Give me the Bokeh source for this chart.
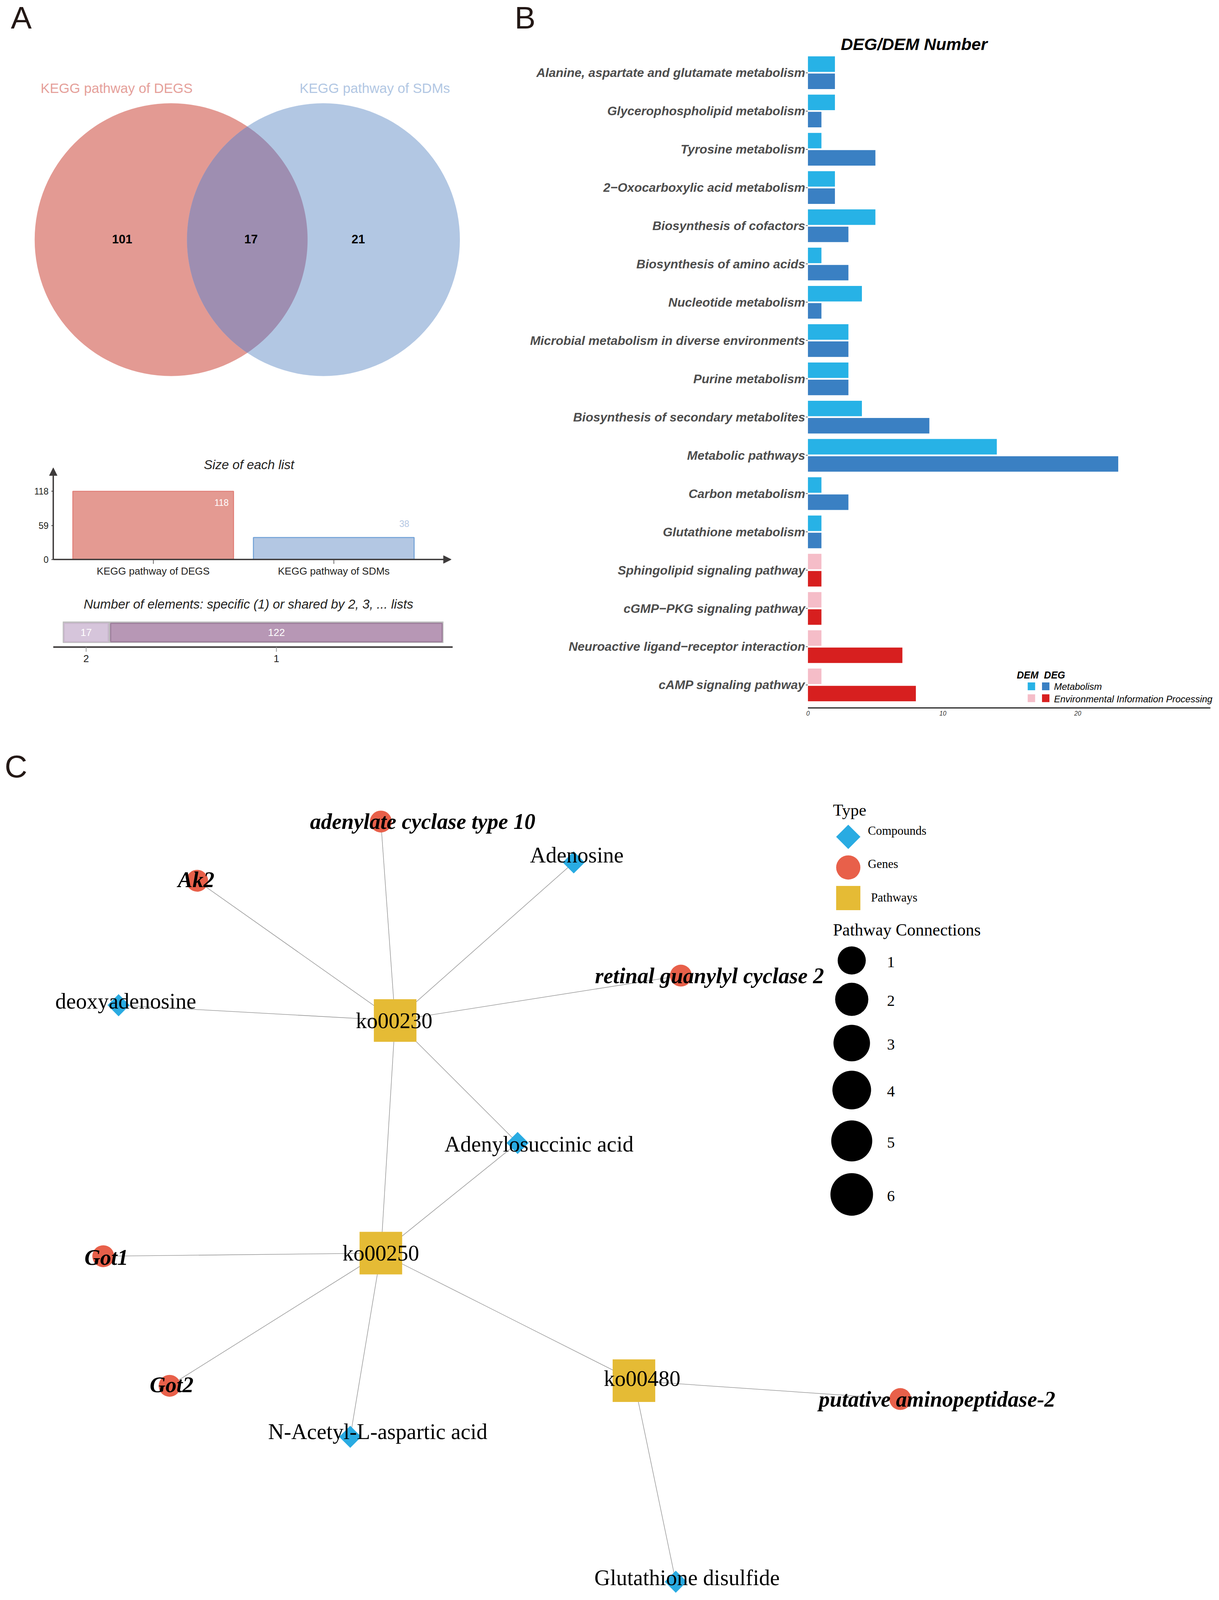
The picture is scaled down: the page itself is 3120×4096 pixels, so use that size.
import numpy as np
from bokeh.plotting import figure
from bokeh.layouts import column, row
from bokeh.models import Range1d, FixedTicker, Arrow, NormalHead
from bokeh.core.properties import value
from bokeh.embed import file_html
from bokeh.resources import INLINE

SANS = "Liberation Sans"
SERIF = "Liberation Serif"
K = 0.882          # reference px -> page px
OFF = 0            # page offset of the layout
S2L = 2.61204      # shown px -> page px (panel C coordinates)

# ---------------- Panel A data ----------------
venn_sets = ["KEGG pathway of DEGS", "KEGG pathway of SDMs"]
venn_unique = [101, 21]
venn_shared = [17]
list_sizes = [118, 38]
size_ticks = [0, 59, 118]
share_labels = ["2", "1"]
share_counts = [17, 122]

# ---------------- Panel B data ----------------
b_pathways = [
    "Alanine, aspartate and glutamate metabolism",
    "Glycerophospholipid metabolism",
    "Tyrosine metabolism",
    "2\u2212Oxocarboxylic acid metabolism",
    "Biosynthesis of cofactors",
    "Biosynthesis of amino acids",
    "Nucleotide metabolism",
    "Microbial metabolism in diverse environments",
    "Purine metabolism",
    "Biosynthesis of secondary metabolites",
    "Metabolic pathways",
    "Carbon metabolism",
    "Glutathione metabolism",
    "Sphingolipid signaling pathway",
    "cGMP\u2212PKG signaling pathway",
    "Neuroactive ligand\u2212receptor interaction",
    "cAMP signaling pathway",
]
b_dem = [2, 2, 1, 2, 5, 1, 4, 3, 3, 4, 14, 1, 1, 1, 1, 1, 1]
b_deg = [2, 1, 5, 2, 3, 3, 1, 3, 3, 9, 23, 3, 1, 1, 1, 7, 8]
b_class = ["Metabolism"] * 13 + ["Environmental Information Processing"] * 4
b_classes = ["Metabolism", "Environmental Information Processing"]
b_ticks = [0, 10, 20]

# ---------------- Panel C data ----------------
c_nodes = ["adenylate cyclase type 10", "Ak2", "Adenosine", "deoxyadenosine", "ko00230",
           "retinal guanylyl cyclase 2", "Adenylosuccinic acid", "ko00250", "Got1", "Got2",
           "N-Acetyl-L-aspartic acid", "ko00480", "putative aminopeptidase-2",
           "Glutathione disulfide"]
c_types = ["Genes", "Genes", "Compounds", "Compounds", "Pathways", "Genes", "Compounds",
           "Pathways", "Genes", "Genes", "Compounds", "Pathways", "Genes", "Compounds"]
c_x = [373, 193, 562, 116, 387, 667, 507, 373, 101, 166, 343, 621, 882, 662]
c_y = [805, 863, 845, 985, 1000, 956, 1120, 1228, 1231, 1358, 1408, 1353, 1371, 1550]
c_lx = [414, 192, 565, 123, 386, 695, 528, 373, 104, 168, 370, 629, 918, 673]
c_ly = [805, 862, 838, 981, 1000, 956, 1121, 1228, 1232, 1357, 1403, 1351, 1371, 1546]
c_edge_from = ["ko00230"] * 7 + ["ko00250"] * 5 + ["ko00480"] * 2
c_edge_to = ["adenylate cyclase type 10", "Ak2", "Adenosine", "deoxyadenosine",
             "retinal guanylyl cyclase 2", "Adenylosuccinic acid", "ko00250",
             "Adenylosuccinic acid", "Got1", "Got2", "N-Acetyl-L-aspartic acid", "ko00480",
             "putative aminopeptidase-2", "Glutathione disulfide"]
c_legend_types = ["Compounds", "Genes", "Pathways"]
c_conn = [1, 2, 3, 4, 5, 6]

# ---------------- layout constants (page px) ----------------
WALL = 3116
WL = 1260
WB = WALL - WL
HA1, HA2, HA3 = 1110, 390, 380
HTOP = HA1 + HA2 + HA3
HC = 4090 - HTOP


def loc2ref(v):
    return (v + OFF) / K


def base_fig(w, h, xr, yr, axes=False):
    kw = dict(width=w, height=h, x_range=xr, y_range=yr, output_backend="svg",
              toolbar_location=None, min_border=0, title_location=None)
    if not axes:
        kw.update(x_axis_type=None, y_axis_type=None)
    p = figure(**kw)
    p.outline_line_color = None
    p.background_fill_color = "white"
    p.border_fill_color = "white"
    if axes:
        p.xgrid.visible = False
        p.ygrid.visible = False
    return p


def txt(p, x, y, t, size, font=SANS, style="normal", color="black", align="center",
        baseline="middle"):
    p.text(x=x, y=y, text=t, text_font=value(font), text_font_size=size,
           text_font_style=style, text_color=color, text_align=align,
           text_baseline=baseline)


# ================= Panel A1 : Venn =================
pA1 = base_fig(WL, HA1, Range1d(loc2ref(0), loc2ref(WL)), Range1d(loc2ref(HA1), loc2ref(0)))
cx = [496.0, 938.0]
cy = 695.0
rad = 396.0
pA1.ellipse(x=cx, y=[cy, cy], width=2 * rad, height=2 * rad,
            fill_color=["#E39A93", "#B2C7E3"], line_color=None)
half = (cx[1] - cx[0]) / 2
th = np.arccos(half / rad)
t1 = np.linspace(-th, th, 120)
t2 = np.linspace(np.pi - th, np.pi + th, 120)
lens_x = np.concatenate([cx[0] + rad * np.cos(t1), cx[1] + rad * np.cos(t2)])
lens_y = np.concatenate([cy + rad * np.sin(t1), cy + rad * np.sin(t2)])
pA1.patch(lens_x, lens_y, fill_color="#9E8EB1", line_color=None)
txt(pA1, [338, 1087], [255, 255], venn_sets, "35px", color=["#E5A09A", "#B2C7E3"])
txt(pA1, [354, 728, 1039], [693, 693, 693],
    [str(venn_unique[0]), str(venn_shared[0]), str(venn_unique[1])], "31px", style="bold")
txt(pA1, [31], [51], ["A"], "80px", color="#231815", align="left")

# ================= Panel A2 : Size of each list =================
def a2x(F):
    return (F - 444.0) / 524.0


def a2y(F):
    return (1623.3 - F) / 1.6763


pA2 = base_fig(WL, HA2, Range1d(a2x(loc2ref(0)), a2x(loc2ref(WL))),
               Range1d(a2y(loc2ref(HA1 + HA2)), a2y(loc2ref(HA1))), axes=True)
xi = list(range(len(list_sizes)))
pA2.vbar(x=xi, top=list_sizes, bottom=0, width=0.89,
         fill_color=["#E49A92", "#B3C7E3"], line_color=["#E07F78", "#6FA0D6"], line_width=2.5)
ax_x = a2x(154)
pA2.xaxis.fixed_location = 0
pA2.yaxis.fixed_location = ax_x
for ax in (pA2.xaxis[0], pA2.yaxis[0]):
    ax.axis_line_color = None
    ax.minor_tick_line_color = None
    ax.major_tick_in = 0
    ax.major_label_text_font = SANS
    ax.major_label_text_color = "#231F20"
    ax.major_tick_line_color = "#3D3A3A"
pA2.xaxis.ticker = FixedTicker(ticks=xi)
pA2.xaxis.major_label_overrides = {i: s for i, s in enumerate(venn_sets)}
pA2.xaxis.major_label_text_font_size = "26px"
pA2.xaxis.major_tick_out = 11
pA2.xaxis.major_tick_line_width = 1.5
pA2.xaxis.major_label_standoff = 4
pA2.yaxis.ticker = FixedTicker(ticks=size_ticks)
pA2.yaxis.major_label_text_font_size = "23px"
pA2.yaxis.major_tick_out = 5
pA2.yaxis.major_tick_line_width = 2
pA2.yaxis.major_label_standoff = 7
AX = "#3D3A3A"
pA2.add_layout(Arrow(end=NormalHead(size=20, fill_color=AX, line_color=AX),
                     x_start=ax_x, y_start=0, x_end=ax_x, y_end=a2y(1357),
                     line_color=AX, line_width=3.5))
pA2.add_layout(Arrow(end=NormalHead(size=20, fill_color=AX, line_color=AX),
                     x_start=ax_x, y_start=0, x_end=a2x(1309), y_end=0,
                     line_color=AX, line_width=3.5))
txt(pA2, [a2x(722)], [a2y(1348)], ["Size of each list"], "33px", style="italic", color="#231F20")
txt(pA2, [i + 0.418 for i in xi], [a2y(1458), a2y(1519)], [str(v) for v in list_sizes], "23px",
    color=["white", "#B3C7E3"], align="right")

# ================= Panel A3 : shared elements =================
def a3x(F):
    return (F - 182.0) / 7.942


def a3y(F):
    return F * K - OFF


pA3 = base_fig(WL, HA3, Range1d(a3x(loc2ref(0)), a3x(loc2ref(WL))),
               Range1d(HA1 + HA2 + HA3, HA1 + HA2), axes=True)
cum = np.concatenate([[0], np.cumsum(share_counts)[:-1]])
total = int(np.sum(share_counts))
pA3.hbar(y=[a3y(1834.5)], left=[0], right=[total], height=54,
         fill_color="#BEBEBE", line_color="#BEBEBE", line_width=1)
pA3.hbar(y=[a3y(1835.3)] * 2, left=cum + 0.45, right=cum + np.array(share_counts) - 0.45,
         height=47, fill_color=["#D6C5DB", "#B797B5"], line_color=["#C9B7CD", "#9D7D9B"],
         line_width=3)
centers = [float(c + v / 2) for c, v in zip(cum, share_counts)]
txt(pA3, centers, [a3y(1835)] * 2, [str(v) for v in share_counts], "26px", color="white")
axis_line_y = a3y(1877.6)
pA3.line(x=[a3x(154), a3x(1313)], y=[axis_line_y] * 2, line_color=AX, line_width=4)
pA3.yaxis.visible = False
pA3.xaxis.fixed_location = axis_line_y
pA3.xaxis.axis_line_color = None
pA3.xaxis.ticker = FixedTicker(ticks=centers)
pA3.xaxis.major_label_overrides = {c: s for c, s in zip(centers, share_labels)}
pA3.xaxis.minor_tick_line_color = None
pA3.xaxis.major_tick_in = 0
pA3.xaxis.major_tick_out = 12
pA3.xaxis.major_tick_line_color = "#9A9A9A"
pA3.xaxis.major_tick_line_width = 2
pA3.xaxis.major_label_standoff = 8
pA3.xaxis.major_label_text_font = SANS
pA3.xaxis.major_label_text_font_size = "26px"
pA3.xaxis.major_label_text_color = "#231F20"
txt(pA3, [a3x(720.5)], [a3y(1752.6)],
    ["Number of elements: specific (1) or shared by 2, 3, ... lists"], "33px",
    style="italic", color="#231F20")

# ================= Panel B : DEG/DEM bars =================
def bfx(F):
    return (F - 2344.0) / 39.15


def bfy(F):
    return (F - 210.5) / 111.06


pB = base_fig(WB, HTOP, Range1d(bfx(loc2ref(WL)), bfx(loc2ref(WALL))),
              Range1d(bfy(loc2ref(HTOP)), bfy(loc2ref(0))), axes=True)
idx = np.arange(len(b_pathways))
dem_col = {"Metabolism": "#27B2E6", "Environmental Information Processing": "#F5BDC8"}
deg_col = {"Metabolism": "#3A80C3", "Environmental Information Processing": "#D71F1F"}
pB.hbar(y=idx - 0.225, left=0, right=b_dem, height=0.405,
        fill_color=[dem_col[c] for c in b_class], line_color=None)
pB.hbar(y=idx + 0.225, left=0, right=b_deg, height=0.405,
        fill_color=[deg_col[c] for c in b_class], line_color=None)
b_axis_y = bfy(2054)
pB.line(x=[0, bfx(3512)], y=[b_axis_y] * 2, line_color="black", line_width=2.5)
pB.yaxis.fixed_location = 0
pB.yaxis.ticker = FixedTicker(ticks=[int(i) for i in idx])
pB.yaxis.major_label_overrides = {int(i): s for i, s in zip(idx, b_pathways)}
pB.yaxis.axis_line_color = None
pB.yaxis.minor_tick_line_color = None
pB.yaxis.major_tick_in = 0
pB.yaxis.major_tick_out = 5
pB.yaxis.major_tick_line_color = "#333333"
pB.yaxis.major_tick_line_width = 1.5
pB.yaxis.major_label_standoff = 2
pB.yaxis.major_label_text_font = SANS
pB.yaxis.major_label_text_font_size = "32px"
pB.yaxis.major_label_text_font_style = "bold italic"
pB.yaxis.major_label_text_color = "#4D4D4D"
pB.xaxis.fixed_location = b_axis_y
pB.xaxis.ticker = FixedTicker(ticks=b_ticks)
pB.xaxis.axis_line_color = None
pB.xaxis.minor_tick_line_color = None
pB.xaxis.major_tick_in = 0
pB.xaxis.major_tick_out = 0
pB.xaxis.major_label_standoff = 8
pB.xaxis.major_label_text_font = SANS
pB.xaxis.major_label_text_font_size = "16px"
pB.xaxis.major_label_text_font_style = "italic"
pB.xaxis.major_label_text_color = "#333333"
txt(pB, [bfx(1493)], [bfy(51)], ["B"], "80px", color="#231815", align="left")
txt(pB, [bfx(2652)], [bfy(127)], ["DEG/DEM Number"], "43px", style="bold italic")
# legend
txt(pB, [bfx(2950), bfx(3029)], [bfy(1959)] * 2, ["DEM", "DEG"], "25px", style="bold italic",
    align="left")
sw_y = [bfy(1991.5), bfy(2026)]
pB.rect(x=[bfx(2992.5)] * 2, y=sw_y, width=19, height=20, width_units="screen",
        height_units="screen", fill_color=[dem_col[c] for c in b_classes], line_color=None)
pB.rect(x=[bfx(3034)] * 2, y=sw_y, width=19, height=20, width_units="screen",
        height_units="screen", fill_color=[deg_col[c] for c in b_classes], line_color=None)
txt(pB, [bfx(3058)] * 2, [bfy(1991.5), bfy(2028)], b_classes, "24px", style="italic",
    align="left")

# ================= Panel C : network =================
pC = base_fig(WALL, HC, Range1d(OFF / S2L, (WALL + OFF) / S2L),
              Range1d((HTOP + HC + OFF) / S2L, (HTOP + OFF) / S2L))
pos = {n: (x, y) for n, x, y in zip(c_nodes, c_x, c_y)}
pC.segment(x0=[pos[a][0] for a in c_edge_from], y0=[pos[a][1] for a in c_edge_from],
           x1=[pos[b][0] for b in c_edge_to], y1=[pos[b][1] for b in c_edge_to],
           line_color="#8A8A8A", line_width=1.3)
style_map = {
    "Compounds": dict(marker="square", size=40, angle=np.pi / 4, color="#29ABE2"),
    "Genes": dict(marker="circle", size=56, angle=0.0, color="#E8604A"),
    "Pathways": dict(marker="square", size=109, angle=0.0, color="#E5BB35"),
}
for t in c_legend_types:
    sel = [i for i, tt in enumerate(c_types) if tt == t]
    st = style_map[t]
    pC.scatter(x=[c_x[i] for i in sel], y=[c_y[i] for i in sel], marker=st["marker"],
               size=st["size"], angle=st["angle"], fill_color=st["color"], line_color=None)
for t in c_legend_types:
    sel = [i for i, tt in enumerate(c_types) if tt == t]
    txt(pC, [c_lx[i] for i in sel], [c_ly[i] for i in sel], [c_nodes[i] for i in sel], "56px",
        font=SERIF, style="bold italic" if t == "Genes" else "normal")
txt(pC, [4.4], [751], ["C"], "80px", color="#231815", align="left")
# legend: Type
txt(pC, [816], [793.5], ["Type"], "43px", font=SERIF, align="left")
leg_y = [820, 850, 880]
leg_size = {"Compounds": 44, "Genes": 62, "Pathways": 62}
for t, yy in zip(c_legend_types, leg_y):
    st = style_map[t]
    pC.scatter(x=[831], y=[yy], marker=st["marker"], size=leg_size[t], angle=st["angle"],
               fill_color=st["color"], line_color=None)
txt(pC, [850.2, 850.2, 853.3], [814, 846.5, 879.3], c_legend_types, "31px", font=SERIF,
    align="left")
# legend: Pathway Connections
txt(pC, [816], [911], ["Pathway Connections"], "43.5px", font=SERIF, align="left")
conn_y = [941.1, 979.2, 1022.1, 1068.1, 1118.0, 1170.4]
conn_px = [72, 85, 93.5, 99, 105, 109]
pC.scatter(x=[834.4] * len(c_conn), y=conn_y, marker="circle", size=conn_px,
           fill_color="black", line_color=None)
txt(pC, [869] * len(c_conn), [y + 1.5 for y in conn_y], [str(c) for c in c_conn], "40px",
    font=SERIF, align="left")

layout = column(row(column(pA1, pA2, pA3), pB), pC)
open("out.html", "w").write(file_html(layout, INLINE, "chart"))
